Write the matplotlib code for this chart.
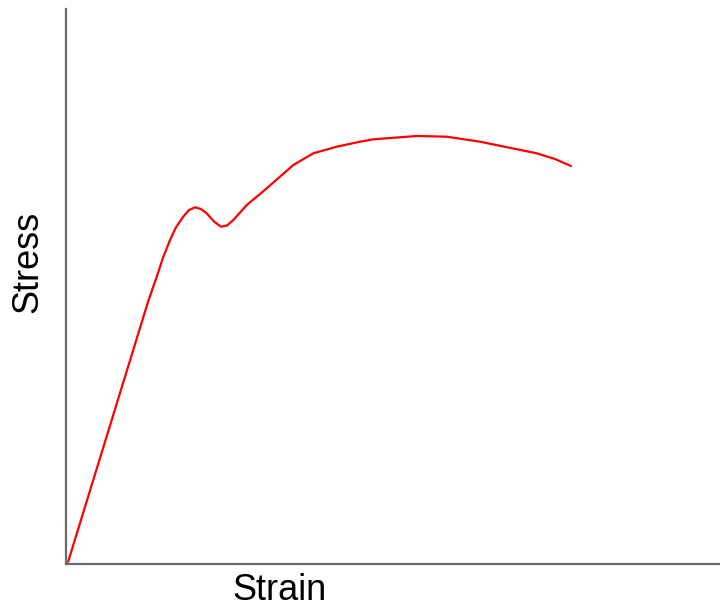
import matplotlib
matplotlib.use("Agg")
import matplotlib.pyplot as plt

# Stress-strain curve values (arbitrary units, axes 0-100)
strain = [0.4, 12.6, 13.3, 13.9, 14.9, 15.97, 16.9, 18.0, 18.87, 19.79, 20.70, 21.57,
          22.69, 23.76, 24.68, 25.64, 27.69, 29.72, 30.74, 34.81, 37.86, 41.44, 45.00,
          47.03, 53.66, 58.24, 63.33, 71.99, 74.79, 77.23]
stress = [0.4, 47.2, 49.6, 51.6, 55.2, 58.38, 60.7, 62.6, 63.78, 64.27, 63.96, 63.19,
          61.71, 60.77, 60.99, 61.98, 64.68, 66.67, 67.69, 71.89, 74.00, 75.19, 76.09,
          76.52, 77.12, 76.99, 76.09, 74.00, 72.97, 71.71]

plt.rcParams['font.family'] = ['Liberation Sans', 'DejaVu Sans']

fig = plt.figure(figsize=(7.2, 6.07), dpi=100)
ax = fig.add_axes([65.5 / 720, (607 - 564) / 607, 1 - 65.5 / 720, (564 - 9) / 607])
ax.plot(strain, stress, color='#ff0000', lw=1.6, solid_capstyle='round',
        solid_joinstyle='round', clip_on=False)
ax.set_xlim(0, 100)
ax.set_ylim(0, 100)
ax.set_xticks([])
ax.set_yticks([])
for s in ['top', 'right']:
    ax.spines[s].set_visible(False)
for s in ['left', 'bottom']:
    ax.spines[s].set_color('#6b6b6b')
    ax.spines[s].set_linewidth(1.6)

fig.text(280 / 720, 1 - 590 / 607, 'Strain', fontsize=26, ha='center', va='center', color='black')
fig.text(27.5 / 720, 1 - 262 / 607, 'Stress', fontsize=26, ha='center', va='center',
         rotation=90, color='black')

fig.savefig('out.png', dpi=100)
